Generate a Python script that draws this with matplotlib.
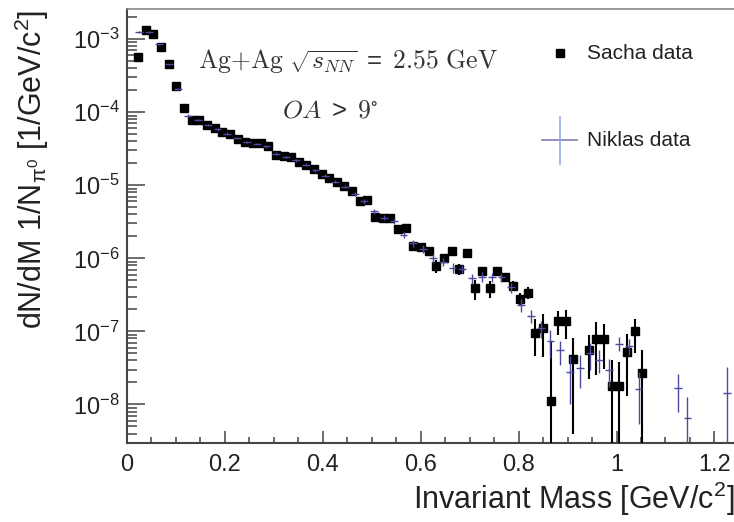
import numpy as np
import matplotlib
matplotlib.use("Agg")
import matplotlib.pyplot as plt
from matplotlib.ticker import MultipleLocator, FuncFormatter, LogLocator

plt.rcParams["font.family"] = ["Liberation Sans", "DejaVu Sans"]
plt.rcParams["mathtext.fontset"] = "custom"
plt.rcParams["mathtext.rm"] = "Liberation Sans"
plt.rcParams["mathtext.it"] = "Liberation Sans:italic"
plt.rcParams["mathtext.default"] = "regular"

# ---- data ----
sacha_x = [0.023, 0.039, 0.054, 0.070, 0.086, 0.101, 0.117, 0.132, 0.148, 0.164,
           0.179, 0.195, 0.210, 0.226, 0.242, 0.257, 0.273, 0.288, 0.304, 0.320,
           0.335, 0.351, 0.366, 0.382, 0.398, 0.413, 0.429, 0.444, 0.460, 0.476,
           0.491, 0.507, 0.522, 0.538, 0.554, 0.569, 0.585, 0.600, 0.616, 0.632,
           0.647, 0.663, 0.678, 0.694, 0.710, 0.725, 0.741, 0.756, 0.772, 0.788,
           0.803, 0.819, 0.834, 0.850, 0.866, 0.881, 0.897, 0.912,
           0.944, 0.959, 0.975, 0.990, 1.006, 1.022, 1.037, 1.053]
sacha_y = [5.7e-4, 1.34e-3, 1.17e-3, 7.7e-4, 4.56e-4, 2.3e-4, 1.15e-4, 7.9e-5, 7.8e-5, 6.6e-5,
           6.1e-5, 5.4e-5, 4.95e-5, 4.35e-5, 3.9e-5, 3.8e-5, 3.8e-5, 3.4e-5, 2.6e-5, 2.5e-5,
           2.4e-5, 2.1e-5, 1.9e-5, 1.66e-5, 1.42e-5, 1.24e-5, 1.1e-5, 9.8e-6, 8.4e-6, 6.0e-6,
           6.2e-6, 3.7e-6, 3.55e-6, 3.55e-6, 2.5e-6, 2.6e-6, 1.48e-6, 1.44e-6, 1.25e-6, 7.9e-7,
           1.0e-6, 1.25e-6, 7.2e-7, 1.2e-6, 3.9e-7, 6.7e-7, 3.9e-7, 6.6e-7, 5.5e-7, 4.2e-7,
           2.8e-7, 3.4e-7, 9.6e-8, 1.1e-7, 1.1e-8, 1.4e-7, 1.38e-7, 4.2e-8,
           5.5e-8, 7.9e-8, 7.9e-8, 1.8e-8, 1.8e-8, 5.3e-8, 1.0e-7, 2.7e-8]
sacha_err = [2e-5, 3e-5, 3e-5, 2e-5, 1.5e-5, 1e-5, 6e-6, 3e-6, 3e-6, 2.5e-6,
             2.4e-6, 2.2e-6, 2e-6, 1.8e-6, 1.7e-6, 1.7e-6, 1.7e-6, 1.6e-6, 1.3e-6, 1.3e-6,
             1.3e-6, 1.2e-6, 1.1e-6, 1.0e-6, 9e-7, 8e-7, 7.5e-7, 7e-7, 6.5e-7, 5e-7,
             5e-7, 3.8e-7, 3.7e-7, 3.7e-7, 3e-7, 3e-7, 2e-7, 2e-7, 1.8e-7, 1.6e-7,
             1.3e-7, 1.3e-7, 1.2e-7, 1.3e-7, 1.2e-7, 1.0e-7, 1.0e-7, 8e-8, 7e-8, 6.5e-8,
             6e-8, 6e-8, 5e-8, 6.5e-8, 6.4e-8, 5e-8, 6e-8, 3.8e-8,
             3.3e-8, 5.4e-8, 4.8e-8, 2.2e-8, 2.0e-8, 4e-8, 5e-8, 2.8e-8]

niklas_x = [0.025, 0.045, 0.065, 0.085, 0.105, 0.125, 0.145, 0.165, 0.185, 0.205,
            0.225, 0.245, 0.265, 0.285, 0.305, 0.325, 0.345, 0.365, 0.385, 0.405,
            0.425, 0.445, 0.465, 0.485, 0.505, 0.525, 0.545, 0.565, 0.585, 0.605,
            0.625, 0.645, 0.665, 0.685, 0.705, 0.725, 0.745, 0.765, 0.785, 0.805,
            0.825, 0.845, 0.865, 0.885, 0.905, 0.925, 0.945, 0.965, 0.985, 1.005,
            1.025, 1.045, 1.125, 1.145, 1.225]
niklas_y = [1.25e-3, 1.25e-3, 8.5e-4, 4.5e-4, 2.1e-4, 9.0e-5, 7.8e-5, 6.6e-5, 5.8e-5, 5.1e-5,
            4.4e-5, 3.9e-5, 3.7e-5, 3.4e-5, 2.7e-5, 2.45e-5, 2.2e-5, 1.9e-5, 1.6e-5, 1.35e-5,
            1.12e-5, 9.6e-6, 7.6e-6, 6.0e-6, 4.4e-6, 3.6e-6, 3.2e-6, 2.1e-6, 1.6e-6, 1.35e-6,
            1.0e-6, 9.0e-7, 7.4e-7, 7.2e-7, 5.3e-7, 5.6e-7, 5.5e-7, 5.5e-7, 4.0e-7, 2.3e-7,
            1.64e-7, 1.1e-7, 7.3e-8, 5.5e-8, 2.8e-8, 3.2e-8, 5.0e-8, 4.1e-8, 3.0e-8, 6.8e-8,
            6.3e-8, 1.64e-8, 1.7e-8, 6.6e-9, 1.43e-8]
niklas_err = [3e-5, 3e-5, 2e-5, 1.2e-5, 7e-6, 3e-6, 2.5e-6, 2e-6, 2e-6, 1.8e-6,
              1.6e-6, 1.5e-6, 1.4e-6, 1.3e-6, 1.1e-6, 1.0e-6, 1e-6, 9e-7, 8e-7, 7e-7,
              6e-7, 5.5e-7, 5e-7, 4e-7, 3.5e-7, 3e-7, 2.8e-7, 2.2e-7, 1.8e-7, 1.6e-7,
              1.3e-7, 1.2e-7, 1.1e-7, 1.0e-7, 8e-8, 8e-8, 8e-8, 8e-8, 6e-8, 4.5e-8,
              3.5e-8, 3e-8, 3e-8, 2e-8, 1.8e-8, 1.5e-8, 2e-8, 1.4e-8, 1.25e-8, 1.45e-8,
              1.5e-8, 1.1e-8, 9e-9, 6e-9, 1.8e-8]
niklas_binhalf = 0.008

BLUE = "#4a4aa0"

# ---- figure ----
fig = plt.figure(figsize=(7.34, 5.22), dpi=100)
ax = fig.add_axes([0.173, 0.152, 0.827, 0.830])

ax.errorbar(sacha_x, sacha_y, yerr=sacha_err, fmt="s", ms=6.2, color="black",
            ecolor="black", elinewidth=1.5, capsize=0, zorder=3)
ax.errorbar(niklas_x, niklas_y, yerr=niklas_err, xerr=niklas_binhalf, fmt="none",
            ecolor=BLUE, elinewidth=1.0, capsize=0, zorder=4)

ax.set_yscale("log", nonpositive="clip")
ax.set_xlim(0, 1.24)
ax.set_ylim(3e-9, 2.55e-3)

ax.xaxis.set_major_locator(MultipleLocator(0.2))
ax.xaxis.set_minor_locator(MultipleLocator(0.05))
ax.xaxis.set_major_formatter(FuncFormatter(lambda v, p: f"{v:g}"))
ax.yaxis.set_minor_locator(LogLocator(base=10, subs=np.arange(2, 10), numticks=20))

ax.tick_params(which="both", direction="in", top=False, right=False,
               colors="#444444", labelcolor="#222222", width=1.1)
ax.tick_params(axis="x", which="major", length=8.6, pad=8, labelsize=17)
ax.tick_params(axis="x", which="minor", length=4.3)
ax.tick_params(axis="y", which="major", length=13, pad=5, labelsize=17)
ax.tick_params(axis="y", which="minor", length=7)

for s in ("left", "bottom"):
    ax.spines[s].set_color("#444444"); ax.spines[s].set_linewidth(1.5)
ax.spines["top"].set_color("#888888"); ax.spines["top"].set_linewidth(1.2)
ax.spines["right"].set_visible(False)

ax.set_xlabel(r"Invariant Mass [GeV/c$^2$]", fontsize=22, color="#222222", loc="right")
ax.xaxis.set_label_coords(1.0, -0.085)
ax.set_ylabel(r"dN/dM 1/N$_{\pi^0}$ [1/GeV/c$^2$]", fontsize=22, color="#222222")
ax.yaxis.set_label_coords(-0.125, 0.63)

# annotations (LaTeX-like, Computer Modern)
ax.text(0.117, 0.881,
        r"$\mathrm{Ag{+}Ag}\ \sqrt{\mathit{s}_{\mathit{NN}}}\;=\;\mathrm{2.55\ GeV}$",
        transform=ax.transAxes, fontsize=18.5, color="#333333", va="center",
        math_fontfamily="cm")
ax.text(0.255, 0.767, r"$\mathit{OA}\;>\;\mathrm{9}^{\circ}$", transform=ax.transAxes,
        fontsize=18.5, color="#333333", va="center", math_fontfamily="cm")

# legend (ROOT style, drawn by hand)
ax.plot([0.713], [0.899], "s", ms=5.5, color="black", transform=ax.transAxes,
        clip_on=False)
ax.text(0.758, 0.899, "Sacha data", transform=ax.transAxes, fontsize=15,
        color="#222222", va="center")
ax.plot([0.684, 0.742], [0.698, 0.698], color="#7c7cb8", lw=1.2, transform=ax.transAxes)
ax.plot([0.713, 0.713], [0.644, 0.752], color="#93a8e4", lw=1.2, transform=ax.transAxes)
ax.text(0.758, 0.698, "Niklas data", transform=ax.transAxes, fontsize=15,
        color="#222222", va="center")

fig.savefig("out.png", dpi=100)
